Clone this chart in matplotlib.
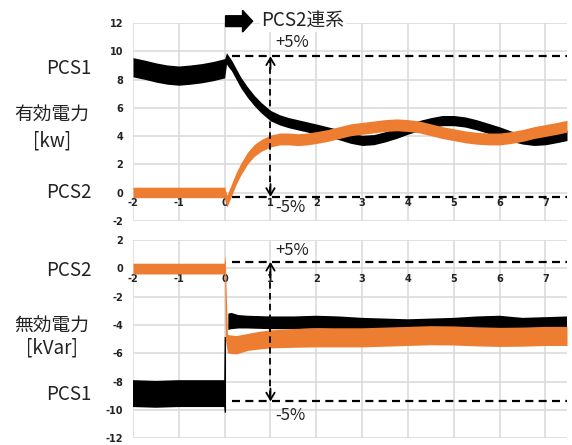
import numpy as np
import matplotlib
matplotlib.use("Agg")
import matplotlib.pyplot as plt
from matplotlib.patches import FancyArrow

plt.rcParams['font.family'] = ['Noto Sans CJK JP', 'DejaVu Sans']
plt.rcParams['axes.unicode_minus'] = False

NAN = np.nan
ORANGE = '#ED7D31'

# ---------------- data ----------------
x_ticks = [-2, -1, 0, 1, 2, 3, 4, 5, 6, 7]
top_yticks = [-2, 0, 2, 4, 6, 8, 10, 12]
bot_yticks = [-12, -10, -8, -6, -4, -2, 0, 2]

# Active power [kW] - PCS1 (black band: centre and half-width)
p1_x = [-2.0, -1.75, -1.5, -1.25, -1.0, -0.75, -0.5, -0.25, 0.0, 0.04, 0.08,
        0.15, 0.25, 0.35, 0.5, 0.65, 0.8, 1.0, 1.2, 1.4, 1.6, 1.8, 2.0, 2.25,
        2.5, 2.75, 3.0, 3.25, 3.5, 3.75, 4.0, 4.25, 4.5, 4.75, 5.0, 5.25, 5.5,
        5.75, 6.0, 6.25, 6.5, 6.75, 7.0, 7.25, 7.47]
p1_c = [8.87, 8.7, 8.5, 8.35, 8.28, 8.35, 8.45, 8.6, 8.8, 9.5, 9.3,
        9.0, 8.4, 7.8, 7.1, 6.5, 6.0, 5.45, 5.15, 4.95, 4.8, 4.65, 4.5, 4.3,
        4.1, 3.85, 3.7, 3.75, 3.95, 4.2, 4.5, 4.75, 4.95, 5.1, 5.1, 5.0, 4.8,
        4.55, 4.3, 4.0, 3.8, 3.7, 3.75, 3.9, 4.05]
p1_h = [0.68, 0.68, 0.68, 0.68, 0.68, 0.68, 0.68, 0.68, 0.68, 0.4, 0.4,
        0.38, 0.38, 0.38, 0.38, 0.37, 0.37, 0.37, 0.36, 0.36, 0.36, 0.36, 0.36, 0.36,
        0.36, 0.36, 0.36, 0.36, 0.36, 0.36, 0.36, 0.36, 0.36, 0.36, 0.36, 0.36, 0.36,
        0.36, 0.36, 0.36, 0.36, 0.36, 0.36, 0.36, 0.36]

# Active power [kW] - PCS2 (orange band)
p2_x = [-2.0, -1.0, -0.01, 0.0, 0.05, 0.15, 0.25, 0.35, 0.5, 0.65, 0.8, 1.0,
        1.2, 1.4, 1.6, 1.8, 2.0, 2.25, 2.5, 2.75, 3.0, 3.25, 3.5, 3.75, 4.0,
        4.25, 4.5, 4.75, 5.0, 5.25, 5.5, 5.75, 6.0, 6.25, 6.5, 6.75, 7.0, 7.25, 7.47]
p2_c = [0.02, 0.02, 0.02, 0.0, -0.6, 0.2, 1.0, 1.65, 2.45, 3.0, 3.35, 3.65,
        3.8, 3.8, 3.75, 3.8, 3.9, 4.05, 4.25, 4.45, 4.55, 4.65, 4.75, 4.8, 4.75,
        4.65, 4.45, 4.25, 4.1, 3.95, 3.85, 3.8, 3.8, 3.9, 4.05, 4.25, 4.4, 4.55, 4.7]
p2_h = [0.37] * 3 + [0.42] * 36

# Reactive power [kVar] - PCS1 (black band, explicit lower/upper)
q1_x = [-2.0, -1.5, -1.0, -0.5, -0.01, 0.0, 0.03, 0.05, 0.08, 0.15, 0.3, 0.5,
        1.0, 1.5, 2.0, 2.5, 3.0, 3.5, 4.0, 4.5, 5.0, 5.5, 6.0, 6.5, 7.0, 7.47]
q1_lo = [-9.8, -9.85, -9.8, -9.8, -9.8, -10.2, -10.2, NAN, -4.35, -4.3, -4.25, -4.25,
         -4.3, -4.3, -4.25, -4.3, -4.4, -4.45, -4.5, -4.45, -4.4, -4.3, -4.25, -4.4, -4.35, -4.3]
q1_hi = [-7.9, -7.95, -7.9, -7.9, -7.9, -4.85, -4.85, NAN, -3.2, -3.15, -3.3, -3.35,
         -3.4, -3.4, -3.35, -3.4, -3.5, -3.55, -3.6, -3.55, -3.5, -3.4, -3.35, -3.5, -3.45, -3.4]

# Reactive power [kVar] - PCS2 (orange band, explicit lower/upper)
q2_x = [-2.0, -1.0, -0.01, 0.0, 0.015, 0.06, 0.1, 0.25, 0.5, 0.75, 1.0, 1.5,
        2.0, 2.5, 3.0, 3.5, 4.0, 4.5, 5.0, 5.5, 6.0, 6.5, 7.0, 7.47]
q2_lo = [-0.4, -0.4, -0.4, -0.42, -5.0, -5.95, -6.0, -6.05, -5.8, -5.7, -5.62, -5.58,
         -5.55, -5.55, -5.55, -5.5, -5.45, -5.4, -5.42, -5.48, -5.52, -5.5, -5.45, -5.45]
q2_hi = [0.36, 0.36, 0.36, 0.92, 0.5, -4.65, -4.7, -4.75, -4.6, -4.45, -4.35, -4.25,
         -4.2, -4.2, -4.2, -4.15, -4.1, -4.05, -4.07, -4.13, -4.17, -4.15, -4.1, -4.1]

# dashed +/-5 % limit lines and double arrows
top_lim = [9.64, -0.29]
bot_lim = [0.45, -9.4]
lim_x0 = 0.17
arrow_x = 1.0

title_txt = 'PCS2連系'

# ---------------- figure ----------------
W, H = 572, 445
fig = plt.figure(figsize=(W / 100, H / 100), dpi=100)
fig.patch.set_facecolor('white')

ax1 = fig.add_axes([133 / W, 1 - 221 / H, (567 - 133) / W, 198 / H])
ax2 = fig.add_axes([133 / W, 1 - 438.2 / H, (567 - 133) / W, 198.2 / H])


def style(ax, yticks):
    ax.set_xlim(-2, 7.47)
    ax.set_ylim(yticks[0], yticks[-1])
    ax.set_xticks(x_ticks)
    ax.set_yticks(yticks)
    for s in ax.spines.values():
        s.set_visible(False)
    ax.spines['bottom'].set_position(('data', 0))
    ax.grid(True, color='#d9d9d9', lw=1.1, zorder=0)
    ax.set_axisbelow(True)
    ax.tick_params(length=0)
    ax.tick_params(axis='x', pad=4)
    ax.tick_params(axis='y', pad=7)
    for lab in ax.get_xticklabels() + ax.get_yticklabels():
        lab.set_fontfamily('DejaVu Sans')
        lab.set_fontweight('bold')
        lab.set_fontsize(7)
        lab.set_color('#222222')


style(ax1, top_yticks)
style(ax2, bot_yticks)

# bands
p1_c_a, p1_h_a = np.array(p1_c), np.array(p1_h)
ax1.fill_between(p1_x, p1_c_a - p1_h_a, p1_c_a + p1_h_a, color='black', lw=0, zorder=3)
p2_c_a, p2_h_a = np.array(p2_c), np.array(p2_h)
ax1.fill_between(p2_x, p2_c_a - p2_h_a, p2_c_a + p2_h_a, color=ORANGE, lw=0, zorder=4)

ax2.fill_between(q1_x, q1_lo, q1_hi, color='black', lw=0, zorder=3)
ax2.fill_between(q2_x, q2_lo, q2_hi, color=ORANGE, lw=0, zorder=4)


def limits(ax, lims, plus_y, minus_y):
    for yv in lims:
        ax.plot([lim_x0, 7.47], [yv, yv], color='black', lw=1.6,
                dashes=(3.6, 2.4), zorder=5, clip_on=False)
    ax.plot([arrow_x, arrow_x], [lims[1] + 0.3, lims[0] - 0.3], color='black', lw=1.3,
            dashes=(3.6, 2.4), zorder=5)
    for tip, base in ((lims[0], lims[0] - 0.9), (lims[1], lims[1] + 0.9)):
        ax.annotate('', xy=(arrow_x, tip), xytext=(arrow_x, base),
                    arrowprops=dict(arrowstyle='->,head_length=0.5,head_width=0.3',
                                    lw=1.3, color='black', shrinkA=0, shrinkB=0),
                    zorder=6)
    ax.text(1.1, plus_y, '+5%', fontsize=12, ha='left', va='center', zorder=7,
            color='#222222')
    ax.text(1.1, minus_y, '-5%', fontsize=12, ha='left', va='center', zorder=7,
            color='#222222')


limits(ax1, top_lim, 10.6, -1.08)
limits(ax2, bot_lim, 1.28, -10.4)

# title arrow + text
ax1.add_patch(FancyArrow(0.02, 12.13, 0.59, 0, width=0.76, head_width=1.54,
                         head_length=0.22, length_includes_head=True,
                         color='black', clip_on=False, zorder=8))
ax1.text(0.8, 12.2, title_txt, fontsize=13.5, ha='left', va='center',
         color='#222222', zorder=8, clip_on=False,
         bbox=dict(facecolor='white', edgecolor='none', pad=1))


# left labels (pixel positions converted to figure fraction)
def ftext(px, py, s, ha):
    fig.text(px / W, 1 - py / H, s, fontsize=13.5, ha=ha, va='center',
             color='#222222')


ftext(92, 68, 'PCS1', 'right')
ftext(52, 114, '有効電力', 'center')
ftext(52, 141, '[kw]', 'center')
ftext(92, 192, 'PCS2', 'right')
ftext(92, 270, 'PCS2', 'right')
ftext(52, 325, '無効電力', 'center')
ftext(52, 348, '[kVar]', 'center')
ftext(92, 395, 'PCS1', 'right')

fig.savefig('out.png', dpi=100)
